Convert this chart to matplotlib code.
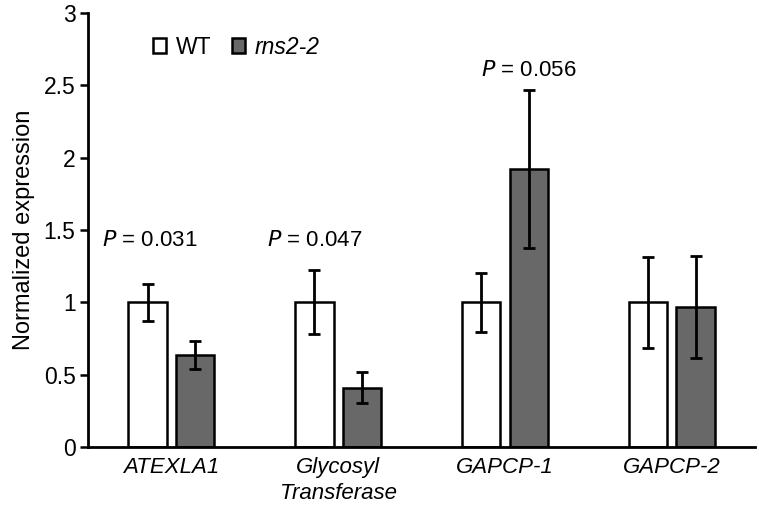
import numpy as np
import matplotlib
matplotlib.use("Agg")
import matplotlib.pyplot as plt
from matplotlib.patches import Patch

plt.rcParams['font.family'] = ['Liberation Sans', 'DejaVu Sans']

# data
genes = ['ATEXLA1', 'Glycosyl\nTransferase', 'GAPCP-1', 'GAPCP-2']
wt = [1.0, 1.0, 1.0, 1.0]
wt_err = [0.127, 0.22, 0.205, 0.315]
mut = [0.636, 0.41, 1.92, 0.967]
mut_err = [0.095, 0.105, 0.545, 0.355]
pvals = ['0.031', '0.047', '0.056', None]
p_x = [-0.13, 0.86, 2.145, None]
p_y = [1.43, 1.43, 2.6, None]

fig = plt.figure(figsize=(7.59, 5.12), dpi=100)
ax = fig.add_axes([0.116, 0.127, 0.879, 0.848])

x = np.arange(len(genes))
w = 0.23
off = 0.143
ekw = dict(elinewidth=2, capthick=2, capsize=4, ecolor='black')
ax.bar(x - off, wt, w, color='white', edgecolor='black', linewidth=1.8,
       yerr=wt_err, error_kw=ekw, label='WT')
ax.bar(x + off, mut, w, color='#686868', edgecolor='black', linewidth=1.8,
       yerr=mut_err, error_kw=ekw, label='rns2-2')

for i in range(len(genes)):
    if pvals[i] is None:
        continue
    ax.text(p_x[i], p_y[i], r'$\it{P}$' + ' = ' + pvals[i], ha='center', va='center',
            fontsize=16)

ax.set_xlim(-0.5, 3.5)
ax.set_ylim(0, 3)
ax.set_yticks([0, 0.5, 1, 1.5, 2, 2.5, 3])
ax.set_yticklabels(['0', '0.5', '1', '1.5', '2', '2.5', '3'])
ax.set_xticks(x)
ax.set_xticklabels(genes, fontstyle='italic', fontsize=16, linespacing=1.35)
ax.tick_params(axis='x', length=0, pad=7)
ax.tick_params(axis='y', length=6, width=1.8, labelsize=16.5, direction='out', pad=3)
ax.set_ylabel('Normalized expression', fontsize=17, labelpad=6)
for s in ['top', 'right']:
    ax.spines[s].set_visible(False)
for s in ['left', 'bottom']:
    ax.spines[s].set_linewidth(2)

handles = [Patch(facecolor='white', edgecolor='black', linewidth=1.8),
           Patch(facecolor='#686868', edgecolor='black', linewidth=1.8)]
leg = ax.legend(handles, ['WT', 'rns2-2'], ncol=2, frameon=False, loc='upper left',
                bbox_to_anchor=(0.066, 0.995), handlelength=0.6, handleheight=0.6,
                handletextpad=0.4, columnspacing=0.9, fontsize=16.5)
leg.get_texts()[1].set_fontstyle('italic')

fig.savefig('out.png', dpi=100)
